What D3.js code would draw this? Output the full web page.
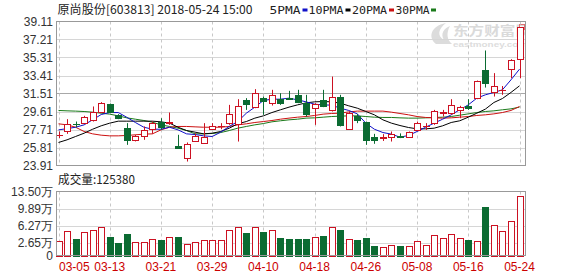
<!DOCTYPE html>
<html><head><meta charset="utf-8">
<script src="https://cdn.jsdelivr.net/npm/d3@7"></script>
<style>body{margin:0;background:#fff}svg{display:block}</style>
</head><body>
<svg id="c" width="578" height="276"></svg>
<script>
const dates = ["03-05","03-06","03-07","03-08","03-09","03-12","03-13","03-14","03-15","03-16","03-19","03-20","03-21","03-22","03-23","03-26","03-27","03-28","03-29","03-30",
"04-02","04-03","04-04","04-09","04-10","04-11","04-12","04-13","04-16","04-17","04-18","04-19","04-20","04-23","04-24","04-25","04-26","04-27",
"05-02","05-03","05-04","05-07","05-08","05-09","05-10","05-11","05-14","05-15","05-16","05-17","05-18","05-21","05-22","05-23","05-24"];
const open  = [27.12,27.60,28.30,28.38,28.73,29.61,30.38,29.26,27.85,26.55,27.04,27.74,28.52,28.42,26.02,24.68,26.51,26.27,27.74,28.08,28.38,28.31,30.84,30.07,31.02,30.56,30.91,31.03,31.37,30.56,29.96,30.84,29.78,31.19,27.74,29.15,28.48,26.87,26.85,26.97,27.00,26.97,27.67,28.08,28.38,29.48,29.43,29.78,30.21,31.02,34.01,31.62,31.88,34.08,35.13];
const high  = [27.50,28.80,28.55,29.15,30.14,30.60,30.45,29.33,28.38,27.15,28.03,28.55,28.90,29.50,27.15,26.34,27.30,28.38,28.38,28.38,30.31,30.91,31.02,31.97,31.19,31.90,31.54,31.79,31.90,31.37,30.49,31.90,33.30,31.37,29.61,29.36,28.55,27.25,27.22,27.50,27.30,27.50,28.55,28.38,29.78,29.78,30.91,30.21,30.91,32.88,36.05,33.66,32.30,35.13,38.51];
const low   = [26.80,27.25,27.95,28.30,28.55,29.50,29.55,28.80,26.09,26.45,26.62,27.25,27.67,28.20,25.67,24.33,26.40,26.20,27.67,27.74,28.20,26.44,29.78,29.96,29.26,30.24,30.31,30.84,30.49,29.08,28.20,30.07,29.61,28.03,27.67,28.38,26.09,26.20,26.50,26.44,26.80,26.90,27.60,27.67,28.20,29.08,29.26,28.90,29.78,30.91,32.14,31.19,31.37,33.13,33.13];
const close = [27.15,28.30,28.25,29.01,29.61,30.49,29.61,28.90,26.62,27.04,27.67,28.38,27.95,28.47,25.74,26.16,27.04,26.87,28.10,28.12,29.33,30.24,30.38,31.54,30.77,31.33,30.56,30.98,30.66,29.36,30.38,30.14,31.19,28.20,29.43,28.73,26.62,26.62,26.88,27.25,26.95,27.43,28.38,28.12,29.68,29.52,30.31,30.07,29.93,32.78,32.60,32.35,31.92,35.06,38.51];
const volume = [3.09,5.20,3.52,4.92,5.41,6.05,3.80,2.74,4.43,2.88,2.88,3.52,3.30,3.94,3.94,2.46,2.88,3.23,3.23,3.23,5.41,6.05,4.78,6.05,4.99,5.34,3.73,3.52,3.52,3.52,3.80,4.15,5.98,5.34,3.52,3.23,3.73,2.04,1.83,2.25,2.04,2.04,3.02,2.25,4.29,3.73,4.50,3.73,3.23,3.02,10.26,6.40,5.20,7.24,12.54];
const ma5  = [27.67,27.80,27.95,28.20,28.73,29.29,29.50,29.50,29.00,28.45,27.95,27.74,27.74,27.95,27.67,27.25,27.18,27.04,26.97,27.43,28.03,28.55,29.43,30.07,30.77,30.91,30.91,31.02,30.84,30.63,30.38,30.31,30.28,29.96,29.72,29.36,28.38,27.74,27.39,27.22,26.90,27.08,27.50,27.95,28.38,28.80,29.26,29.79,30.31,31.02,31.37,31.62,31.90,32.95,34.08];
const ma10 = [26.34,26.62,26.97,27.32,27.74,28.10,28.38,28.59,28.59,28.59,28.59,28.59,28.52,28.38,27.95,27.60,27.43,27.25,27.32,27.50,27.85,28.31,28.55,28.91,29.15,29.50,29.79,30.07,30.31,30.52,30.63,30.66,30.63,30.49,30.21,29.96,29.61,29.26,28.73,28.38,28.13,27.92,27.78,27.78,27.85,28.10,28.45,28.63,29.01,29.43,29.86,30.56,30.98,31.62,32.32];
const ma20 = [28.31,28.20,27.95,27.50,27.25,27.11,27.04,27.04,27.08,27.15,27.22,27.25,27.67,27.95,28.03,28.03,27.99,27.95,27.95,27.95,28.03,28.20,28.31,28.45,28.55,28.66,28.80,28.91,29.01,29.08,29.19,29.33,29.40,29.43,29.57,29.65,29.65,29.65,29.65,29.54,29.40,29.26,29.08,28.98,28.94,28.91,28.94,29.01,29.08,29.19,29.26,29.36,29.50,29.72,30.14];
const ma30 = [29.72,29.68,29.65,29.61,29.54,29.43,29.33,29.15,28.94,28.80,28.66,28.48,28.20,28.03,27.85,27.60,27.25,27.25,27.29,27.39,27.60,27.85,28.03,28.20,28.34,28.52,28.63,28.73,28.80,28.91,28.94,29.01,29.08,29.12,29.15,29.15,29.08,29.01,28.98,28.98,28.94,28.91,28.91,28.94,28.98,29.01,29.08,29.22,29.36,29.50,29.61,29.68,29.79,29.89,30.07];
const priceTicks = [39.11,37.21,35.31,33.41,31.51,29.61,27.71,25.81,23.91];
const volTicks = [13.50,9.89,6.27,2.65,0];
const volTickLabels = ["13.50万","9.89万","6.27万","2.65万","0"];
const xLabelDates = ["03-05","03-13","03-21","03-29","04-10","04-18","04-26","05-08","05-16","05-24"];
const maNames = ["5PMA","10PMA","20PMA","30PMA"];
const titleText = "原尚股份[603813] 2018-05-24 15:00";
const volTitle = "成交量:125380";

const RED = "#cc1122", GREEN = "#0b6b32";
const maColors = ["#1010c8","#000000","#cc1111","#1a7a1a"];

const svg = d3.select("#c");
const L = 56.5, R = 525.5, T = 21.5, B = 165.5, VT = 191.5, VB = 255.5;
const x = d3.scalePoint().domain(dates).range([58.5, 519.5]);
const y = d3.scaleLinear().domain([23.91, 39.11]).range([B, T]);
const yv = d3.scaleLinear().domain([0, 13.5]).range([VB, VT]);
const font = "'Liberation Sans', Arial, sans-serif";

svg.append("defs").append("clipPath").attr("id","pc").append("rect").attr("x",L).attr("y",T).attr("width",R-L).attr("height",B-T);

// watermark
const wm = svg.append("g").attr("clip-path","url(#pc)");
wm.append("path").attr("d","M436,44 C428,38 430,26 446,23 C438,29 437,36 444,40 C440,34 444,28 450,26 C446,33 447,40 452,44 Z").attr("fill","#dcdcdc");
wm.append("text").attr("x",453).attr("y",35).attr("font-family","'Noto Sans CJK SC',sans-serif").attr("font-size",13).attr("font-weight","bold").attr("fill","#dadada").attr("textLength",78).attr("lengthAdjust","spacingAndGlyphs").text("东方财富网");
wm.append("text").attr("x",453).attr("y",47).attr("font-family",font).attr("font-size",8).attr("font-weight","bold").attr("fill","#dddddd").attr("textLength",74).attr("lengthAdjust","spacingAndGlyphs").text("eastmoney.com");
wm.append("rect").attr("x",519.5).attr("y",24.5).attr("width",5).attr("height",5).attr("fill","none").attr("stroke","#e07070");

// horizontal grid main
svg.append("g").selectAll("line").data(priceTicks.slice(1,-1)).join("line")
  .attr("x1",L).attr("x2",R).attr("y1",d=>Math.round(y(d))+0.5).attr("y2",d=>Math.round(y(d))+0.5)
  .attr("stroke",d=>d===31.51?"#a8a8a8":"#d6d6d6");
// vertical dashed grid
[[T,B],[VT,VB]].forEach(([a,b])=>{
  svg.append("g").selectAll("line").data(xLabelDates).join("line")
    .attr("x1",d=>Math.round(x(d))+0.5).attr("x2",d=>Math.round(x(d))+0.5).attr("y1",a).attr("y2",b)
    .attr("stroke","#c8c8c8").attr("stroke-dasharray","3,3");
});
// volume horizontal grid
svg.append("g").selectAll("line").data(volTicks.slice(1,-1)).join("line")
  .attr("x1",L).attr("x2",R).attr("y1",d=>Math.round(yv(d))+0.5).attr("y2",d=>Math.round(yv(d))+0.5)
  .attr("stroke","#d6d6d6");

// MA lines
[ma30,ma20,ma10,ma5].forEach((arr,k)=>{
  const idx = 3-k;
  svg.append("path").datum(arr)
    .attr("d", d3.line().x((d,i)=>x(dates[i])).y(d=>y(d)))
    .attr("fill","none").attr("stroke",maColors[idx]).attr("stroke-width",1);
});

// candles
const cd = dates.map((d,i)=>({d,o:open[i],h:high[i],l:low[i],c:close[i],v:volume[i],up:close[i]>=open[i]}));
const cg = svg.append("g");
cg.selectAll("line").data(cd).join("line")
  .attr("x1",d=>Math.round(x(d.d))+0.5).attr("x2",d=>Math.round(x(d.d))+0.5)
  .attr("y1",d=>y(d.h)).attr("y2",d=>y(d.l))
  .attr("stroke",d=>d.up?RED:GREEN);
cg.selectAll("rect").data(cd).join("rect")
  .attr("x",d=>Math.round(x(d.d))-2.5).attr("width",6)
  .attr("y",d=>Math.round(y(Math.max(d.o,d.c)))+0.5)
  .attr("height",d=>Math.max(0.01,Math.round(y(Math.min(d.o,d.c)))-Math.round(y(Math.max(d.o,d.c)))))
  .attr("fill",d=>d.up?"#fff":GREEN).attr("stroke",d=>d.up?RED:GREEN);

// volume bars
svg.append("g").selectAll("rect").data(cd).join("rect")
  .attr("x",d=>Math.round(x(d.d))-2.5).attr("width",6)
  .attr("y",d=>Math.round(yv(d.v))+0.5).attr("height",d=>Math.round(VB)-Math.round(yv(d.v)))
  .attr("fill",d=>d.up?"#fff":GREEN).attr("stroke",d=>d.up?RED:GREEN);

// borders
svg.append("rect").attr("x",L).attr("y",T).attr("width",R-L).attr("height",B-T).attr("fill","none").attr("stroke","#999");
svg.append("rect").attr("x",L).attr("y",VT).attr("width",R-L).attr("height",VB-VT).attr("fill","none").attr("stroke","#999");

// y labels
svg.append("g").selectAll("text").data(priceTicks).join("text")
  .attr("x",53).attr("y",d=>y(d)+4.5).attr("text-anchor","end")
  .attr("font-family",font).attr("font-size",12).attr("fill","#333").text(d=>d.toFixed(2));
svg.append("g").selectAll("text").data(volTicks).join("text")
  .attr("x",53).attr("y",d=>yv(d)+4.5).attr("text-anchor","end")
  .attr("font-family",font).attr("font-size",12).attr("fill","#333").text((d,i)=>volTickLabels[i]);

// x labels
svg.append("g").selectAll("text").data(xLabelDates).join("text")
  .attr("x",(d,i)=>i===0?59:x(d)).attr("y",271).attr("text-anchor",(d,i)=>i===0?"start":"middle")
  .attr("font-family",font).attr("font-size",12).attr("fill","#cc0000").text(d=>d);

// title & legend
svg.append("text").attr("x",57.5).attr("y",13.5).attr("font-family","'Noto Sans CJK SC',sans-serif").attr("font-size",12).attr("fill","#222")
  .attr("textLength",195).attr("lengthAdjust","spacingAndGlyphs").text(titleText);
const legX = [269.5,308.5,352,395.5], legW=[31,35,35,34], sqX=[302.5,345.5,389,431];
maNames.forEach((n,i)=>{
  svg.append("text").attr("x",legX[i]).attr("y",13.5).attr("font-family","'DejaVu Sans Mono',monospace").attr("font-size",11).attr("fill","#222")
    .attr("textLength",legW[i]).attr("lengthAdjust","spacingAndGlyphs").text(n);
  svg.append("rect").attr("x",sqX[i]).attr("y",8.5).attr("width",5).attr("height",3).attr("fill",maColors[i]);
});
svg.append("text").attr("x",58).attr("y",184).attr("font-family","'Noto Sans CJK SC',sans-serif").attr("font-size",12).attr("fill","#222")
  .attr("textLength",77).attr("lengthAdjust","spacingAndGlyphs").text(volTitle);
</script>
</body></html>
